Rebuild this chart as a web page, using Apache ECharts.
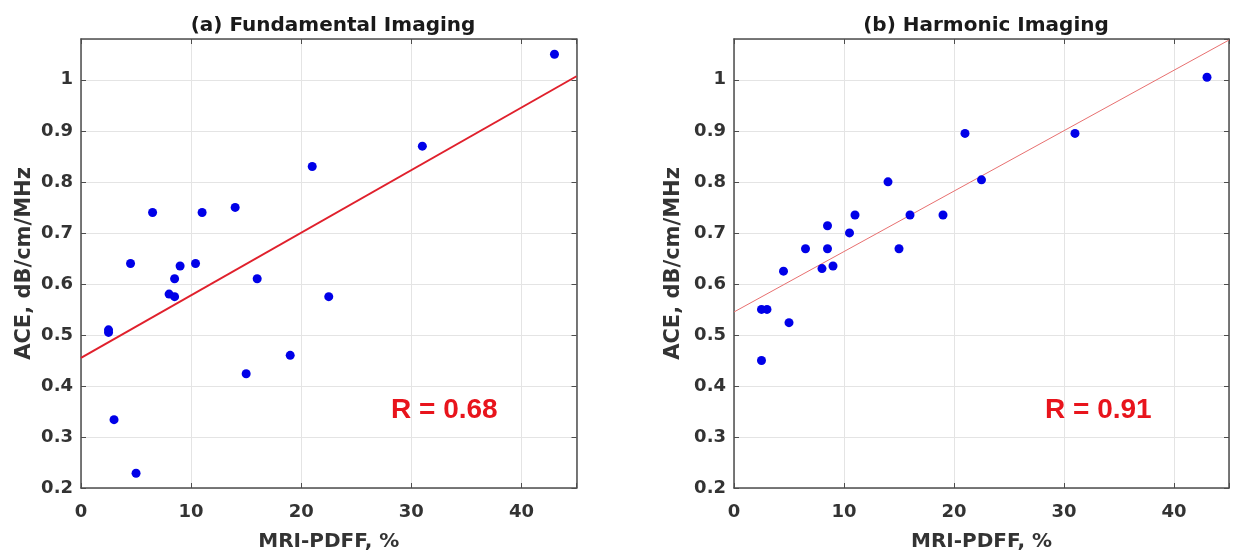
<!DOCTYPE html>
<html>
<head>
<meta charset="utf-8">
<script src="https://cdn.jsdelivr.net/npm/echarts@6/dist/echarts.min.js"></script>
<style>
  html, body { margin: 0; padding: 0; background: #fff; }
  #chart { width: 1235px; height: 559px; }
</style>
</head>
<body>
<div id="chart"></div>
<script>
'use strict';

// MRI-PDFF (%) per patient
var pdffA = [43, 31, 21, 6.5, 11, 14, 4.5, 9, 10.4, 8.5, 16, 8, 8.5, 22.5, 2.5, 2.5, 19, 15, 3, 5];
var aceA  = [1.05, 0.87, 0.83, 0.74, 0.74, 0.75, 0.64, 0.635, 0.64, 0.61, 0.61, 0.58, 0.575, 0.575, 0.51, 0.505, 0.46, 0.424, 0.334, 0.229];

var pdffB = [43, 21, 31, 14, 22.5, 11, 16, 19, 8.5, 10.5, 6.5, 8.5, 15, 8, 9, 4.5, 2.5, 3, 5, 2.5];
var aceB  = [1.005, 0.895, 0.895, 0.8, 0.804, 0.735, 0.735, 0.735, 0.714, 0.70, 0.669, 0.669, 0.669, 0.63, 0.635, 0.625, 0.55, 0.55, 0.524, 0.45];

// regression line end points [x, y]
var fitA = [[0, 0.455], [45, 1.007]];
var fitB = [[0, 0.545], [45, 1.078]];

var titles = ['(a) Fundamental Imaging', '(b) Harmonic Imaging'];
var rLabels = ['R = 0.68', 'R = 0.91'];
var xName = 'MRI-PDFF, %';
var yName = 'ACE, dB/cm/MHz';

var font = 'DejaVu Sans';
var axisColor = '#4d4d4d';

function pairs(xs, ys) {
  var out = [];
  for (var i = 0; i < xs.length; i++) out.push([xs[i], ys[i]]);
  return out;
}

function xAxisFor(idx, mirror) {
  return {
    type: 'value', gridIndex: idx, min: 0, max: 45, interval: 10,
    position: mirror ? 'top' : 'bottom',
    name: mirror ? '' : xName, nameLocation: 'middle', nameGap: 44,
    nameTextStyle: { fontFamily: font, fontWeight: 'bold', fontSize: 20, color: '#333' },
    axisLine: { show: true, onZero: false, lineStyle: { color: axisColor, width: 1.5 } },
    axisTick: { show: true, inside: true, length: 5, lineStyle: { color: axisColor } },
    axisLabel: {
      show: !mirror, margin: 15, fontFamily: font, fontWeight: 'bold', fontSize: 18, color: '#333',
      formatter: function (v) { return v % 10 === 0 ? String(v) : ''; }
    },
    splitLine: { show: !mirror, lineStyle: { color: '#e4e4e4', width: 1 } }
  };
}

function yAxisFor(idx, mirror, gap) {
  return {
    type: 'value', gridIndex: idx, min: 0.2, max: 1.08, interval: 0.1,
    position: mirror ? 'right' : 'left',
    name: mirror ? '' : yName, nameLocation: 'middle', nameGap: gap,
    nameTextStyle: { fontFamily: font, fontWeight: 'bold', fontSize: 21, color: '#333' },
    axisLine: { show: true, onZero: false, lineStyle: { color: axisColor, width: 1.5 } },
    axisTick: { show: true, inside: true, length: 5, lineStyle: { color: axisColor } },
    axisLabel: {
      show: !mirror, margin: 8, fontFamily: font, fontWeight: 'bold', fontSize: 18, color: '#333',
      showMaxLabel: false,
      formatter: function (v) { return v > 1.05 ? '' : String(Math.round(v * 10) / 10); }
    },
    splitLine: { show: !mirror, lineStyle: { color: '#e4e4e4', width: 1 } }
  };
}

var chart = echarts.init(document.getElementById('chart'));

var option = {
  backgroundColor: '#fff',
  animation: false,
  title: [
    { text: titles[0], left: 328, top: 11, textAlign: 'center',
      textStyle: { fontFamily: font, fontWeight: 'bold', fontSize: 20, color: '#1a1a1a' } },
    { text: titles[1], left: 981, top: 11, textAlign: 'center',
      textStyle: { fontFamily: font, fontWeight: 'bold', fontSize: 20, color: '#1a1a1a' } },
    { text: rLabels[0], left: 386, top: 391,
      textStyle: { fontFamily: 'Liberation Sans', fontWeight: 'bold', fontSize: 28, color: '#e8141c' } },
    { text: rLabels[1], left: 1040, top: 391,
      textStyle: { fontFamily: 'Liberation Sans', fontWeight: 'bold', fontSize: 28, color: '#e8141c' } }
  ],
  grid: [
    { left: 81, top: 39, width: 495.5, height: 449 },
    { left: 734, top: 39, width: 495, height: 449 }
  ],
  xAxis: [xAxisFor(0, false), xAxisFor(0, true), xAxisFor(1, false), xAxisFor(1, true)],
  yAxis: [yAxisFor(0, false, 46), yAxisFor(0, true, 0), yAxisFor(1, false, 50), yAxisFor(1, true, 0)],
  series: [
    {
      type: 'line', xAxisIndex: 0, yAxisIndex: 0, data: fitA,
      symbol: 'none', clip: true,
      lineStyle: { color: '#e0202c', width: 2 }, z: 2
    },
    {
      type: 'scatter', xAxisIndex: 0, yAxisIndex: 0, data: pairs(pdffA, aceA),
      symbolSize: 9, itemStyle: { color: '#0000e8', opacity: 1 }, z: 3
    },
    {
      type: 'line', xAxisIndex: 2, yAxisIndex: 2, data: fitB,
      symbol: 'none', clip: true,
      lineStyle: { color: '#e87070', width: 1 }, z: 2
    },
    {
      type: 'scatter', xAxisIndex: 2, yAxisIndex: 2, data: pairs(pdffB, aceB),
      symbolSize: 9, itemStyle: { color: '#0000e8', opacity: 1 }, z: 3
    }
  ]
};

chart.setOption(option);
</script>
</body>
</html>
